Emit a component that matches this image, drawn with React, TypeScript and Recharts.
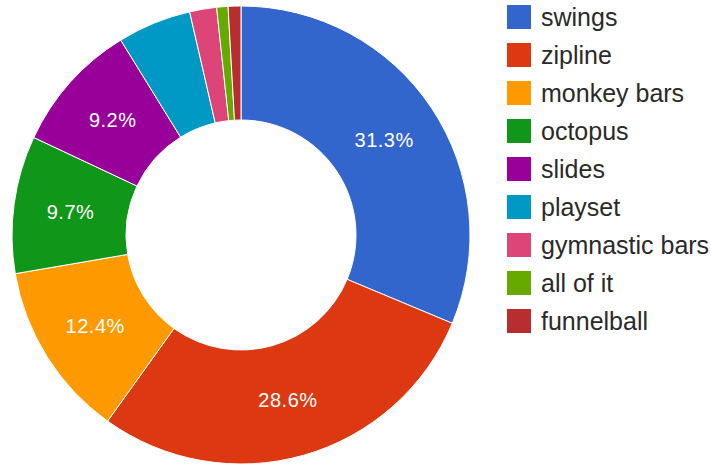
import { PieChart, Pie, Cell } from "recharts";

const categories = [
  "swings",
  "zipline",
  "monkey bars",
  "octopus",
  "slides",
  "playset",
  "gymnastic bars",
  "all of it",
  "funnelball",
];
const shares = [31.3, 28.6, 12.4, 9.7, 9.2, 5.2, 1.9, 0.8, 0.9];
const colors = [
  "#3366cc",
  "#dc3912",
  "#ff9900",
  "#109618",
  "#990099",
  "#0099c6",
  "#dd4477",
  "#66aa00",
  "#b82e2e",
];

const data = categories.map((name, i) => ({ name, value: shares[i] }));

const RAD = Math.PI / 180;
const FONT = "Arial, 'Liberation Sans', sans-serif";

function renderLabel(props: any) {
  const { cx, cy, midAngle, innerRadius, outerRadius, percent } = props;
  if (percent < 0.09) return null;
  const r = (innerRadius + outerRadius) / 2;
  const x = cx + r * Math.cos(-midAngle * RAD);
  const y = cy + r * Math.sin(-midAngle * RAD);
  return (
    <text
      x={x}
      y={y}
      fill="#ffffff"
      textAnchor="middle"
      dominantBaseline="central"
      fontFamily={FONT}
      fontSize={20}
      letterSpacing={0.5}
    >
      {(percent * 100).toFixed(1)}%
    </text>
  );
}

function LegendBox() {
  return (
    <div
      style={{
        position: "absolute",
        left: 507,
        top: -2,
        width: 204,
        fontFamily: FONT,
      }}
    >
      {categories.map((name, i) => (
        <div
          key={name}
          style={{ display: "flex", alignItems: "center", height: 38 }}
        >
          <div
            style={{
              width: 24,
              height: 24,
              background: colors[i],
              marginRight: 10,
              flexShrink: 0,
            }}
          />
          <span style={{ fontSize: 25, color: "#2a2a2a", whiteSpace: "nowrap" }}>
            {name}
          </span>
        </div>
      ))}
    </div>
  );
}

export default function App() {
  return (
    <div
      style={{
        position: "absolute",
        left: 0,
        top: 0,
        width: 711,
        height: 466,
        background: "#fff",
      }}
    >
      <PieChart
        width={711}
        height={466}
        margin={{ top: 0, right: 0, bottom: 0, left: 0 }}
      >
        <Pie
          data={data}
          dataKey="value"
          nameKey="name"
          cx={241}
          cy={235}
          innerRadius={115}
          outerRadius={229}
          startAngle={90}
          endAngle={-270}
          stroke="#ffffff"
          strokeWidth={1}
          label={renderLabel}
          labelLine={false}
          isAnimationActive={false}
        >
          {data.map((d, i) => (
            <Cell key={d.name} fill={colors[i]} />
          ))}
        </Pie>
      </PieChart>
      <LegendBox />
    </div>
  );
}
